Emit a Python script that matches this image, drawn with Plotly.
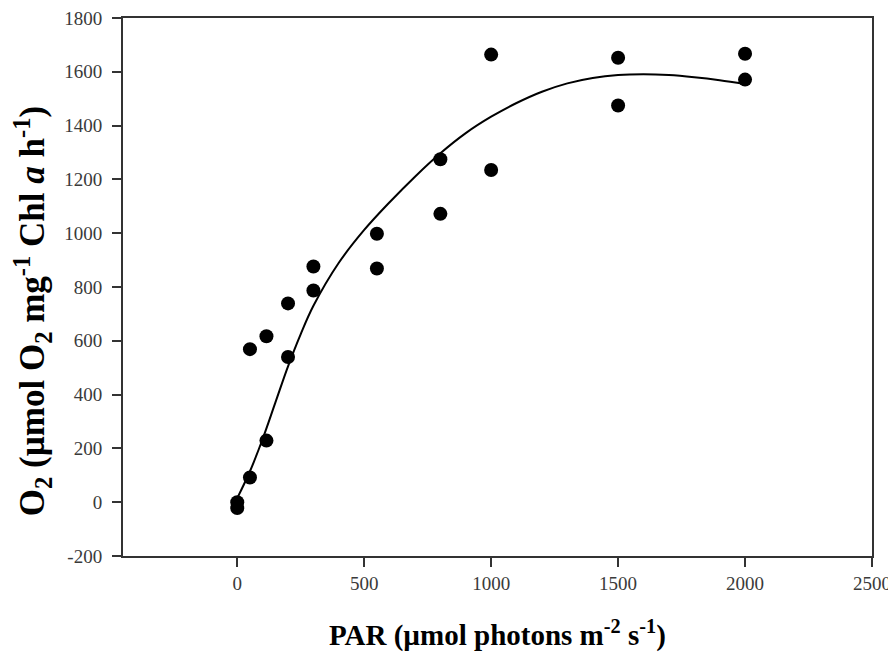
import plotly.graph_objects as go

# Measured data (PAR, O2 evolution)
par = [0, 0, 50, 50, 115, 115, 200, 200, 300, 300, 550, 550, 800, 800,
       1000, 1000, 1500, 1500, 2000, 2000]
o2 = [0, -22, 92, 569, 229, 617, 540, 739, 787, 876, 869, 998, 1072, 1275,
      1235, 1664, 1475, 1652, 1571, 1667]

# Fitted curve
fit_par = [0, 50, 100, 150, 200, 250, 300, 400, 500, 600, 700, 800, 900, 1000,
           1100, 1200, 1300, 1400, 1500, 1600, 1700, 1800, 1900, 2000]
fit_o2 = [15, 115, 235, 370, 505, 625, 730, 890, 1012, 1115, 1210, 1297, 1372,
          1433, 1484, 1526, 1557, 1577, 1588, 1591, 1588, 1580, 1569, 1555]

x_ticks = [0, 500, 1000, 1500, 2000, 2500]
x_labels = ["0", "500", "1000", "1500", "2000", "2500"]
y_ticks = [-200, 0, 200, 400, 600, 800, 1000, 1200, 1400, 1600, 1800]
y_labels = ["-200", "0", "200", "400", "600", "800", "1000", "1200", "1400", "1600", "1800"]

FONT = "Liberation Serif"
AX = "#333333"

fig = go.Figure()
fig.add_trace(go.Scatter(x=fit_par, y=fit_o2, mode="lines", line_shape="spline",
                         line=dict(color="black", width=2), showlegend=False))
fig.add_trace(go.Scatter(x=par, y=o2, mode="markers",
                         marker=dict(color="black", size=14), showlegend=False))

axis_common = dict(showgrid=False, zeroline=False, showline=True, linecolor=AX,
                   linewidth=2, mirror=True, ticks="outside", ticklen=9,
                   tickwidth=2, tickcolor=AX, automargin=False,
                   ticklabeloverflow="allow",
                   tickfont=dict(family=FONT, size=19, color="#3a3a3a", weight="normal"))

fig.update_xaxes(range=[-450, 2500], tickvals=x_ticks, ticktext=x_labels, **axis_common)
fig.update_yaxes(range=[-200, 1800], tickvals=y_ticks, ticktext=y_labels,
                 ticklabelstandoff=6, **axis_common)

fig.add_annotation(text="O<sub>2</sub> (µmol O<sub>2</sub> mg<sup>-1</sup> Chl <i>a</i> h<sup>-1</sup>)",
                   xref="paper", yref="paper", x=-0.1215, y=0.455, textangle=-90,
                   showarrow=False, xanchor="center", yanchor="middle",
                   font=dict(family=FONT, size=35, color="black", weight="bold"))
fig.add_annotation(text="PAR (µmol photons m<sup>-2</sup> s<sup>-1</sup>)",
                   xref="paper", yref="paper", x=0.5, y=-0.144,
                   showarrow=False, xanchor="center", yanchor="middle",
                   font=dict(family=FONT, size=29, color="black", weight="bold"))

fig.update_layout(width=896, height=657, plot_bgcolor="white", paper_bgcolor="white",
                  margin=dict(l=115, r=32, t=10, b=109),
                  font=dict(family=FONT))

fig.write_html("out.html")
